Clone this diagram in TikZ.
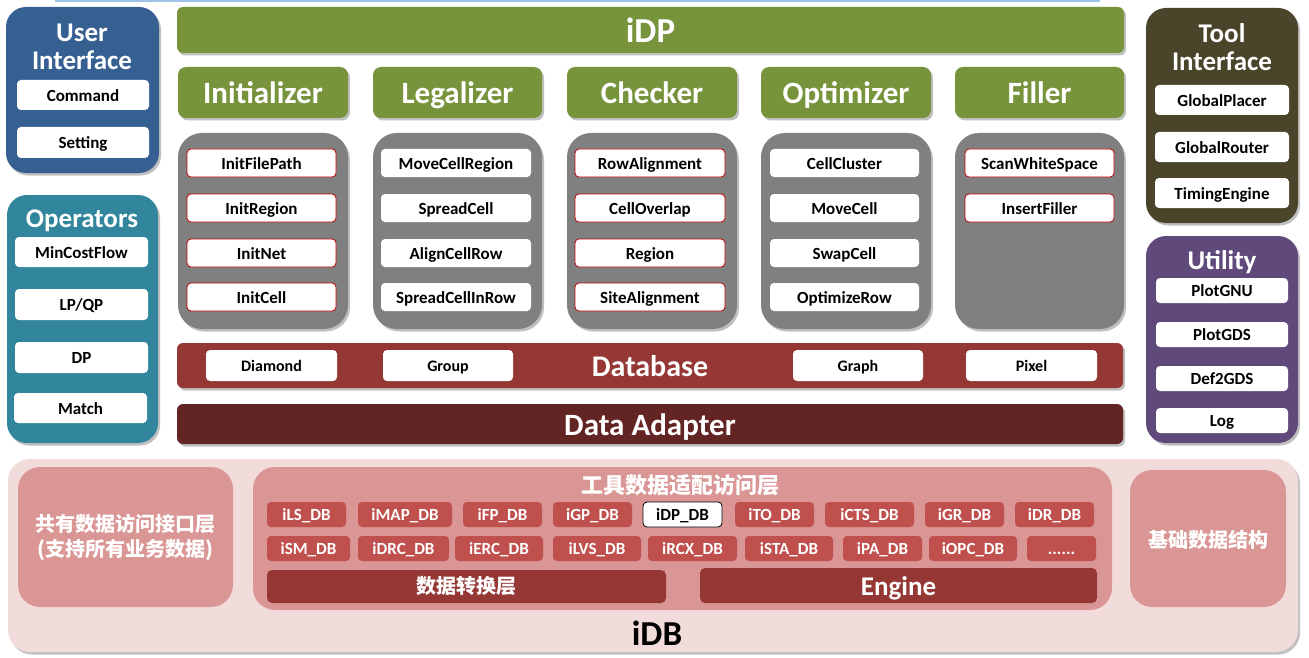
\documentclass[tikz,border=0pt]{standalone}
\usepackage{fontspec}
\setmainfont{Carlito}
\newfontfamily\cjk{Noto Sans CJK SC}
\usetikzlibrary{shadows}
\definecolor{uiblue}{HTML}{376092}
\definecolor{opteal}{HTML}{31859C}
\definecolor{idpgreen}{HTML}{77933C}
\definecolor{panelgrey}{HTML}{808080}
\definecolor{toololive}{HTML}{4A452A}
\definecolor{utilpurple}{HTML}{604A7B}
\definecolor{dbred}{HTML}{953735}
\definecolor{adapterred}{HTML}{632523}
\definecolor{idbpink}{HTML}{F2DCDB}
\definecolor{midpink}{HTML}{D99694}
\definecolor{smallred}{HTML}{C0504D}
\definecolor{borderred}{HTML}{C00000}
\definecolor{toplineblue}{HTML}{9DC3E6}
\newcommand\fsz[2]{\fontsize{#1}{#2}\selectfont}
\newcommand\bx[7]{\node[#1, minimum width={(#5-#3)*1pt}, minimum height={(#6-#4)*1pt}] (#2) at ({(#3+#5)/2},{(#4+#6)/2}) {#7};}
\tikzset{
  base/.style={inner sep=0pt, outer sep=0pt, font=\bfseries},
  fs/.style={font=\bfseries\fsz{#1}{#1}, text height={0.86*#1*1pt}, text depth={0.12*#1*1pt}},
  cfs/.style={font=\cjk\bfseries\fsz{#1}{#1}, text height={0.86*#1*1pt}, text depth={0.12*#1*1pt}},
  shad/.style={drop shadow={shadow xshift=2pt, shadow yshift=-2.5pt, opacity=0.35, fill=black!70}},
  sidepanel/.style={base, shad, rounded corners=20pt},
  greypanel/.style={base, shad, fill=panelgrey, rounded corners=24pt},
  greenbox/.style={base, fs=31, shad, fill=idpgreen, rounded corners=8pt, text=white},
  wbox/.style={base, fs=17, fill=white, rounded corners=4pt, text=black},
  rbox/.style={wbox, draw=borderred, line width=0.8pt},
  ptitle/.style={base, text=white, align=center, font=\bfseries\fsz{27}{28}},
  bar/.style={base, fs=31, shad, rounded corners=6pt, text=white},
  dbitem/.style={base, fs=16, fill=white, rounded corners=4pt, text=black},
  small/.style={base, fs=17, fill=smallred, rounded corners=4pt, text=white},
  smallw/.style={small, fill=white, draw=black, line width=0.8pt, text=black},
  pinkbox/.style={base, fill=midpink, rounded corners=22pt},
  cjktext/.style={base, text=white, align=center, font=\cjk\bfseries\fsz{20}{25}},
  lowbar/.style={base, fill=dbred, rounded corners=5pt, text=white},
}
\begin{document}
\begin{tikzpicture}[x=1pt, y=-1pt]
\path[use as bounding box, fill=white] (0,0) rectangle (1309,658);
\coordinate (tl1) at (55,1);
\coordinate (tl2) at (1100,1);
\draw[toplineblue, line width=1.5pt] (tl1) -- (tl2);

% ---- User Interface
\bx{sidepanel, fill=uiblue}{ui}{6}{7}{159}{173}{}
\node[ptitle] (uit) at (82,47) {User\\Interface};
\bx{wbox}{cmd}{17}{80}{149}{110}{Command}
\bx{wbox}{set}{17}{127}{149}{158}{Setting}

% ---- Operators
\bx{sidepanel, fill=opteal}{ops}{7}{195}{158}{443}{}
\node[ptitle] (opst) at (82,221) {Operators};
\bx{wbox}{mcf}{15}{237}{148}{267}{MinCostFlow}
\bx{wbox}{lpqp}{15}{289}{148}{320}{LP/QP}
\bx{wbox}{dp}{15}{342}{148}{373}{DP}
\bx{wbox}{match}{14}{393}{147}{423}{Match}

% ---- iDP
\bx{bar, fill=idpgreen, fs=35}{idp}{177}{7}{1124}{53}{iDP}
\bx{greenbox}{init}{178}{67}{348}{118}{Initializer}
\bx{greenbox}{leg}{373}{67}{542}{118}{Legalizer}
\bx{greenbox}{chk}{567}{67}{737}{118}{Checker}
\bx{greenbox}{opt}{761}{67}{931}{118}{Optimizer}
\bx{greenbox}{fill}{955}{67}{1124}{118}{Filler}

% grey panels
\bx{greypanel}{initp}{178}{133}{348}{329}{}
\bx{greypanel}{legp}{373}{133}{542}{329}{}
\bx{greypanel}{chkp}{567}{133}{737}{329}{}
\bx{greypanel}{optp}{761}{133}{931}{329}{}
\bx{greypanel}{fillp}{955}{133}{1124}{329}{}

\bx{rbox}{i1}{187}{149}{336}{177}{InitFilePath}
\bx{rbox}{i2}{187}{194}{336}{222}{InitRegion}
\bx{rbox}{i3}{187}{239}{336}{267}{InitNet}
\bx{rbox}{i4}{187}{283}{336}{311}{InitCell}

\bx{wbox}{l1}{381}{149}{531}{177}{MoveCellRegion}
\bx{wbox}{l2}{381}{194}{531}{222}{SpreadCell}
\bx{wbox}{l3}{381}{239}{531}{267}{AlignCellRow}
\bx{wbox}{l4}{381}{283}{531}{311}{SpreadCellInRow}

\bx{rbox}{c1}{575}{149}{725}{177}{RowAlignment}
\bx{rbox}{c2}{575}{194}{725}{222}{CellOverlap}
\bx{rbox}{c3}{575}{239}{725}{267}{Region}
\bx{rbox}{c4}{575}{283}{725}{311}{SiteAlignment}

\bx{wbox}{o1}{770}{149}{919}{177}{CellCluster}
\bx{wbox}{o2}{770}{194}{919}{222}{MoveCell}
\bx{wbox}{o3}{770}{239}{919}{267}{SwapCell}
\bx{wbox}{o4}{770}{283}{919}{311}{OptimizeRow}

\bx{rbox}{f1}{965}{149}{1114}{177}{ScanWhiteSpace}
\bx{rbox}{f2}{965}{194}{1114}{222}{InsertFiller}

% ---- Tool Interface
\bx{sidepanel, fill=toololive}{tool}{1146}{8}{1298}{223}{}
\node[ptitle] (toolt) at (1222,47) {Tool\\Interface};
\bx{wbox}{gp}{1155}{85}{1289}{115}{GlobalPlacer}
\bx{wbox}{gr}{1155}{132}{1289}{162}{GlobalRouter}
\bx{wbox}{te}{1155}{178}{1289}{208}{TimingEngine}

% ---- Utility
\bx{sidepanel, fill=utilpurple}{util}{1146}{236}{1298}{443}{}
\node[ptitle] (utilt) at (1222,262) {Utility};
\bx{wbox}{u1}{1156}{278}{1288}{303}{PlotGNU}
\bx{wbox}{u2}{1156}{322}{1288}{347}{PlotGDS}
\bx{wbox}{u3}{1156}{366}{1288}{391}{Def2GDS}
\bx{wbox}{u4}{1156}{408}{1288}{433}{Log}

% ---- Database / Adapter
\bx{bar, fill=dbred, fs=30}{db}{177}{343}{1123}{388}{Database}
\bx{dbitem}{d1}{206}{350}{337}{381}{Diamond}
\bx{dbitem}{d2}{383}{350}{513}{381}{Group}
\bx{dbitem}{d3}{793}{350}{923}{381}{Graph}
\bx{dbitem}{d4}{966}{350}{1097}{381}{Pixel}
\bx{bar, fill=adapterred}{da}{177}{404}{1123}{444}{Data Adapter}

% ---- iDB
\bx{base, shad, fill=idbpink, rounded corners=22pt}{idb}{8}{459}{1298}{652}{}
\node[base, font=\bfseries\fsz{35}{35}] (idbt) at (657,633) {iDB};
\bx{pinkbox}{share}{18}{467}{233}{607}{}
\node[cjktext] (sharet) at (125,537) {共有数据访问接口层\\(支持所有业务数据)};
\bx{pinkbox}{mid}{253}{467}{1112}{610}{}
\node[cjktext, font=\cjk\bfseries\fsz{22}{22}] (midt) at (680,485) {工具数据适配访问层};
\bx{pinkbox}{basic}{1130}{470}{1286}{607}{}
\node[cjktext] (basict) at (1208,540) {基础数据结构};

\bx{small}{s1}{267}{502}{346}{527}{iLS\_DB}
\bx{small}{s2}{358}{502}{452}{527}{iMAP\_DB}
\bx{small}{s3}{463}{502}{542}{527}{iFP\_DB}
\bx{small}{s4}{553}{502}{632}{527}{iGP\_DB}
\bx{smallw}{s5}{643}{502}{722}{527}{iDP\_DB}
\bx{small}{s6}{735}{502}{814}{527}{iTO\_DB}
\bx{small}{s7}{825}{502}{914}{527}{iCTS\_DB}
\bx{small}{s8}{925}{502}{1004}{527}{iGR\_DB}
\bx{small}{s9}{1015}{502}{1094}{527}{iDR\_DB}

\bx{small}{t1}{267}{536}{350}{561}{iSM\_DB}
\bx{small}{t2}{358}{536}{449}{561}{iDRC\_DB}
\bx{small}{t3}{455}{536}{543}{561}{iERC\_DB}
\bx{small}{t4}{553}{536}{641}{561}{iLVS\_DB}
\bx{small}{t5}{648}{536}{737}{561}{iRCX\_DB}
\bx{small}{t6}{745}{536}{833}{561}{iSTA\_DB}
\bx{small}{t7}{843}{536}{922}{561}{iPA\_DB}
\bx{small}{t8}{929}{536}{1017}{561}{iOPC\_DB}
\bx{small}{t9}{1027}{536}{1096}{561}{......}

\bx{lowbar, cfs=20}{conv}{267}{570}{666}{603}{数据转换层}
\bx{lowbar, fs=27}{eng}{700}{568}{1097}{603}{Engine}
\end{tikzpicture}
\end{document}
